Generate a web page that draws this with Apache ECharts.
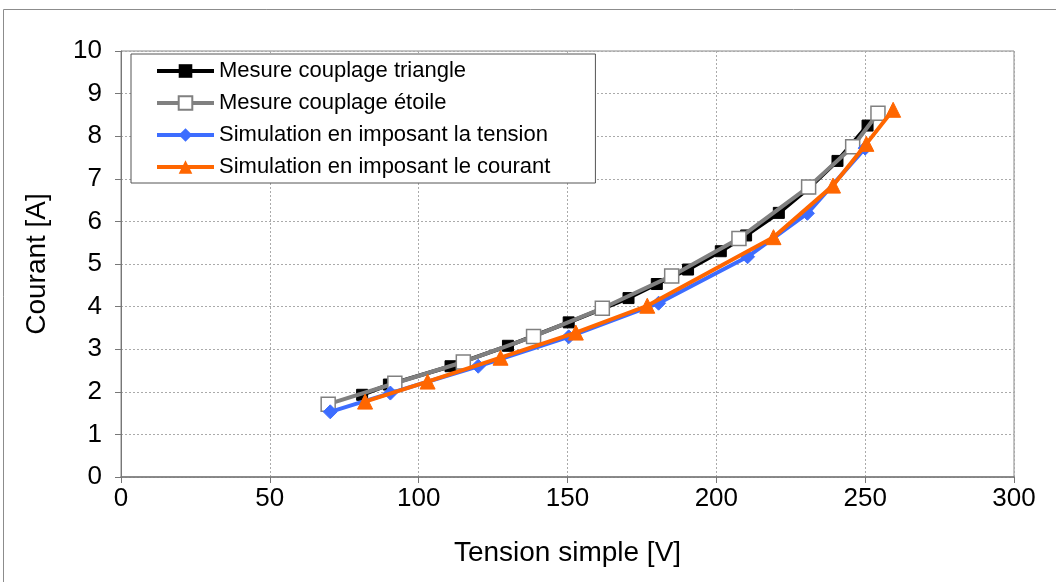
<!DOCTYPE html>
<html><head><meta charset="utf-8">
<script src="https://cdn.jsdelivr.net/npm/echarts@6/dist/echarts.min.js"></script>
<style>html,body{margin:0;padding:0;background:#fff}#c{width:1056px;height:582px}</style>
</head><body><div id="c"></div>
<script>
const seriesNames = ['Mesure couplage triangle','Mesure couplage étoile','Simulation en imposant la tension','Simulation en imposant le courant'];
const triangleV = [81, 90, 110.7, 130, 150.4, 170.5, 180, 190.5, 201.5, 210, 221, 231, 240.7, 250.8];
const triangleI = [1.93, 2.17, 2.6, 3.08, 3.63, 4.2, 4.53, 4.87, 5.3, 5.67, 6.2, 6.78, 7.42, 8.25];
const etoileV = [69.6, 92, 115, 138.6, 161.7, 185, 207.6, 231, 245.8, 254.3];
const etoileI = [1.71, 2.2, 2.7, 3.3, 3.96, 4.72, 5.6, 6.81, 7.75, 8.54];
const tensionV = [70.3, 90.5, 120, 150.4, 180.6, 210.5, 230.6, 250];
const tensionI = [1.53, 1.97, 2.6, 3.29, 4.08, 5.17, 6.19, 7.72];
const courantV = [82, 103, 127.5, 152.8, 176.8, 219.2, 239.2, 250.4, 259.4];
const courantI = [1.77, 2.24, 2.8, 3.39, 4.02, 5.63, 6.84, 7.82, 8.62];
const xTicks = [0, 50, 100, 150, 200, 250, 300];
const yTicks = [0,1,2,3,4,5,6,7,8,9,10];

const pair = (xs, ys) => xs.map((x, i) => [x, ys[i]]);
const font = 'Liberation Sans, Arial, sans-serif';
const chart = echarts.init(document.getElementById('c'), null, {renderer: 'canvas'});
chart.setOption({
  animation: false,
  backgroundColor: '#fff',
  graphic: [{type: 'rect', shape: {x: 3.5, y: 9.5, width: 1100, height: 700}, style: {fill: 'none', stroke: '#8c8c8c', lineWidth: 1}, z: -10}],
  grid: {left: 121, right: 42, top: 51, bottom: 105, show: true, borderColor: '#888', borderWidth: 1},
  legend: {
    orient: 'vertical', left: 131, top: 54,
    padding: [6, 45, 5, 24], itemGap: 10, itemWidth: 57, itemHeight: 17,
    backgroundColor: '#fff', borderColor: '#555', borderWidth: 1, borderRadius: 0,
    lineStyle: {width: 4},
    textStyle: {fontFamily: font, fontSize: 22, lineHeight: 22, color: '#000'},
    data: seriesNames
  },
  xAxis: {
    type: 'value', min: xTicks[0], max: xTicks[xTicks.length - 1], interval: 50,
    name: 'Tension simple [V]', nameLocation: 'middle', nameGap: 62,
    nameTextStyle: {fontFamily: font, fontSize: 28, color: '#000'},
    axisLine: {show: true, lineStyle: {color: '#777', width: 1.5}},
    axisTick: {show: true, length: 6, lineStyle: {color: '#777'}},
    axisLabel: {fontFamily: font, fontSize: 26, color: '#000', margin: 9},
    splitLine: {show: true, lineStyle: {color: '#aaa', type: [2, 2], width: 1}}
  },
  yAxis: {
    type: 'value', min: yTicks[0], max: yTicks[yTicks.length - 1], interval: 1,
    name: 'Courant [A]', nameLocation: 'middle', nameGap: 70,
    nameTextStyle: {fontFamily: font, fontSize: 28, color: '#000'},
    axisLine: {show: true, lineStyle: {color: '#777', width: 1}},
    axisTick: {show: true, length: 6, lineStyle: {color: '#777'}},
    axisLabel: {fontFamily: font, fontSize: 26, color: '#000', margin: 19},
    splitLine: {show: true, lineStyle: {color: '#aaa', type: [2, 2], width: 1}}
  },
  series: [
    {name: seriesNames[0], type: 'line', data: pair(triangleV, triangleI), symbol: 'rect', symbolSize: 11,
     lineStyle: {color: '#000', width: 4}, itemStyle: {color: '#000', borderColor: '#000'}, z: 2},
    {name: seriesNames[1], type: 'line', data: pair(etoileV, etoileI), symbol: 'rect', symbolSize: 14,
     lineStyle: {color: '#808080', width: 4}, itemStyle: {color: '#fff', borderColor: '#808080', borderWidth: 1.5}, z: 3},
    {name: seriesNames[2], type: 'line', data: pair(tensionV, tensionI), symbol: 'diamond', symbolSize: 14,
     lineStyle: {color: '#3d6dff', width: 4}, itemStyle: {color: '#3d6dff', borderColor: '#3d6dff'}, z: 4},
    {name: seriesNames[3], type: 'line', data: pair(courantV, courantI), symbol: 'triangle', symbolSize: 15,
     lineStyle: {color: '#ff6600', width: 4}, itemStyle: {color: '#ff6600', borderColor: '#ff6600'}, z: 5}
  ]
});
</script></body></html>
